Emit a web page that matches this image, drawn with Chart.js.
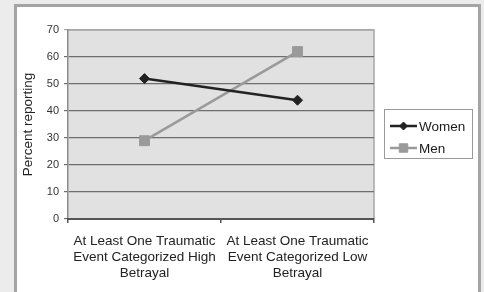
<!DOCTYPE html>
<html lang="en">
<head>
    <meta charset="UTF-8">
    <title>Percent reporting</title>
    <script src="https://cdn.jsdelivr.net/npm/chart.js"></script>
<style>
    body { margin: 0; background-color: #ececec; overflow: hidden; }
    #frame {
        position: absolute; left: 14px; top: 4px;
        width: 461px; height: 300px;
        background: #fff; border: 3px solid #a4a4a4;
    }
    #myChart { position: absolute; left: 0; top: 0; }
</style>
</head>
<body>
    <div id="frame"></div>
    <canvas id="myChart" width="484" height="292"></canvas>

    <script>
        var categories = [
            ['At Least One Traumatic', 'Event Categorized High', 'Betrayal'],
            ['At Least One Traumatic', 'Event Categorized Low', 'Betrayal']
        ];
        var seriesNames = ['Women', 'Men'];
        var women = [52, 44];
        var men = [29, 62];
        var yMin = 0, yMax = 70, yStep = 10;

        var fontFam = '"Liberation Sans", Arial, sans-serif';

        // grey plot background + top/right frame
        var plotBg = {
            id: 'plotBg',
            beforeDraw: function (chart) {
                var a = chart.chartArea, ctx = chart.ctx;
                ctx.save();
                ctx.fillStyle = '#e1e1e1';
                ctx.fillRect(a.left, a.top, a.right - a.left, a.bottom - a.top);
                ctx.strokeStyle = '#a8a8a8';
                ctx.lineWidth = 1.5;
                ctx.beginPath();
                ctx.moveTo(a.left, a.top);
                ctx.lineTo(a.right, a.top);
                ctx.lineTo(a.right, a.bottom);
                ctx.stroke();
                ctx.restore();
            }
        };

        // boxed legend on the right, line + marker + label
        var boxLegend = {
            id: 'boxLegend',
            afterDraw: function (chart) {
                var ctx = chart.ctx;
                ctx.save();
                ctx.fillStyle = '#fff';
                ctx.fillRect(384.5, 109.5, 88, 49);
                ctx.strokeStyle = '#9a9a9a';
                ctx.lineWidth = 1;
                ctx.strokeRect(384.5, 109.5, 88, 49);
                chart.data.datasets.forEach(function (ds, i) {
                    var y = 126 + i * 22;
                    ctx.strokeStyle = ds.borderColor;
                    ctx.lineWidth = ds.borderWidth;
                    ctx.beginPath();
                    ctx.moveTo(390, y);
                    ctx.lineTo(417, y);
                    ctx.stroke();
                    ctx.fillStyle = ds.backgroundColor;
                    ctx.strokeStyle = ds.borderColor;
                    ctx.lineWidth = 1;
                    Chart.helpers.drawPoint(ctx, {
                        pointStyle: ds.pointStyle,
                        radius: ds.pointRadius - 1,
                        rotation: 0,
                        borderWidth: 1
                    }, 403.5, y);
                    ctx.fillStyle = '#1a1a1a';
                    ctx.font = '13.5px ' + fontFam;
                    ctx.textBaseline = 'middle';
                    ctx.textAlign = 'left';
                    ctx.fillText(ds.label, 419, y + 1);
                });
                ctx.restore();
            }
        };

        var ctx = document.getElementById('myChart').getContext('2d');

        var myChart = new Chart(ctx, {
            type: 'line',
            data: {
                labels: categories,
                datasets: [{
                    label: seriesNames[0],
                    data: women,
                    borderColor: '#222222',
                    backgroundColor: '#222222',
                    borderWidth: 2.5,
                    pointStyle: 'rectRot',
                    pointRadius: 5,
                    pointBorderWidth: 1
                }, {
                    label: seriesNames[1],
                    data: men,
                    borderColor: '#9a9a9a',
                    backgroundColor: '#9a9a9a',
                    borderWidth: 2.5,
                    pointStyle: 'rect',
                    pointRadius: 7,
                    pointBorderWidth: 1
                }]
            },
            options: {
                responsive: false,
                animation: false,
                devicePixelRatio: 1,
                layout: { padding: { left: 16, top: 30, right: 110, bottom: 0 } },
                plugins: {
                    legend: { display: false },
                    tooltip: { enabled: false }
                },
                elements: { line: { tension: 0 } },
                scales: {
                    y: {
                        min: yMin,
                        max: yMax,
                        afterFit: function (s) { s.width = 52; },
                        ticks: {
                            stepSize: yStep,
                            padding: 5,
                            color: '#333',
                            font: { family: fontFam, size: 11 }
                        },
                        grid: {
                            color: function (c) { return c.tick && c.tick.value === yMax ? '#a8a8a8' : '#6e6e6e'; },
                            lineWidth: 1.2,
                            tickLength: 4
                        },
                        border: { color: '#8c8c8c', width: 1.5 },
                        title: {
                            display: true,
                            text: 'Percent reporting',
                            color: '#222',
                            font: { family: fontFam, size: 13.5 }
                        }
                    },
                    x: {
                        offset: true,
                        afterFit: function (s) { s.height = 73; },
                        ticks: {
                            padding: 10,
                            maxRotation: 0,
                            color: '#222',
                            font: { family: fontFam, size: 13.5, lineHeight: 1.2 }
                        },
                        grid: {
                            offset: true,
                            drawOnChartArea: false,
                            color: '#555',
                            lineWidth: 1.5,
                            tickLength: 4
                        },
                        border: { color: '#555', width: 2 }
                    }
                }
            },
            plugins: [plotBg, boxLegend]
        });
    </script>
</body>
</html>
